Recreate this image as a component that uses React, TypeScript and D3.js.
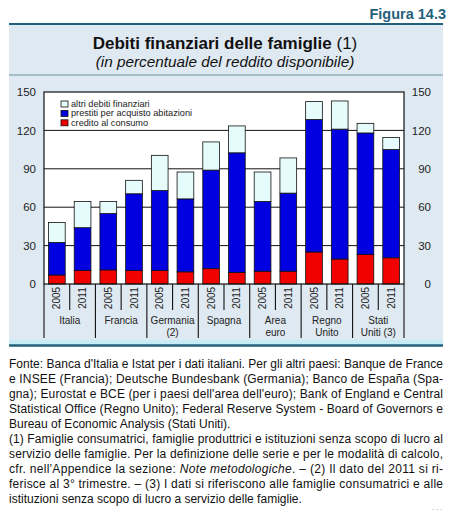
import React from "react";
import * as d3 from "d3";

// values (per cent of disposable income)
const countries = [
  ["Italia"],
  ["Francia"],
  ["Germania", "(2)"],
  ["Spagna"],
  ["Area", "euro"],
  ["Regno", "Unito"],
  ["Stati", "Uniti (3)"],
];
const years = ["2005", "2011"];

const credito = [7, 10.5, 11, 10.5, 10.5, 9.5, 12, 9, 10, 10, 25, 19.5, 23, 20.5];
const prestiti = [25.5, 33.5, 44, 60, 62.5, 57, 77, 93.5, 54.5, 61, 103.5, 101.5, 95, 84.5];
const altri = [15.5, 20.5, 9.5, 10.5, 27.5, 21, 22, 21, 23, 27.5, 14, 22, 7.5, 9.5];

const yTicks = [0, 30, 60, 90, 120, 150];

const seriesKeys = ["credito", "prestiti", "altri"];
const seriesColors: any = {
  credito: "#f20000",
  prestiti: "#0000e0",
  altri: "#e6fbfb",
};
const legendItems = [
  { key: "altri", label: "altri debiti finanziari" },
  { key: "prestiti", label: "prestiti per acquisto abitazioni" },
  { key: "credito", label: "credito al consumo" },
];

const footerLines = [
  "Fonte: Banca d'Italia e Istat per i dati italiani. Per gli altri paesi: Banque de France",
  "e INSEE (Francia); Deutsche Bundesbank (Germania); Banco de España (Spa-",
  "gna); Eurostat e BCE (per i paesi dell'area dell'euro); Bank of England e Central",
  "Statistical Office (Regno Unito); Federal Reserve System - Board of Governors e",
  "Bureau of Economic Analysis (Stati Uniti).",
  "(1) Famiglie consumatrici, famiglie produttrici e istituzioni senza scopo di lucro al",
  "servizio delle famiglie. Per la definizione delle serie e per le modalità di calcolo,",
  "cfr. nell'Appendice la sezione: |Note metodologiche|. – (2) Il dato del 2011 si ri-",
  "ferisce al 3° trimestre. – (3) I dati si riferiscono alle famiglie consumatrici e alle",
  "istituzioni senza scopo di lucro a servizio delle famiglie.",
];
// last line of each paragraph is not justified
const footerJustified = [true, true, true, true, false, true, true, true, true, false];

const FONT = "'Liberation Sans', Arial, Helvetica, sans-serif";
const TEAL = "#23607a";

export default function App() {
  const W = 457;
  const H = 513;
  const left = 44;
  const right = 404;
  const top = 92;
  const bottom = 284;

  const rows = credito.map((c, i) => ({
    i,
    credito: c,
    prestiti: prestiti[i],
    altri: altri[i],
  }));
  const stacked = d3.stack<any>().keys(seriesKeys)(rows);

  const x = d3
    .scaleBand<number>()
    .domain(rows.map((r) => r.i))
    .range([left, right])
    .paddingInner(0.35)
    .paddingOuter(0.175);
  const y = d3.scaleLinear().domain([0, 150]).range([bottom, top]);

  // boundaries between bars (for the axis separators)
  const bounds = d3.range(rows.length + 1).map((k) => left + (right - left) * (k / rows.length));

  return (
    <svg
      width={W}
      height={H}
      style={{ position: "absolute", left: 0, top: 0, fontFamily: FONT }}
    >
      <rect x={0} y={0} width={W} height={H} fill="#fff" />
      <text x={446} y={19} textAnchor="end" fontSize={14.5} fontWeight="bold" fill={TEAL}>
        Figura 14.3
      </text>
      {/* panel */}
      <rect x={9} y={24} width={434} height={321} fill="#dfe9f1" />
      <line x1={9} x2={443} y1={24} y2={24} stroke={TEAL} strokeWidth={2} />
      <line x1={9} x2={443} y1={75} y2={75} stroke="#4f7b8c" strokeWidth={0.8} />
      <rect x={9} y={340} width={434} height={4.5} fill="#c8ecf6" />
      <line x1={9} x2={443} y1={345.5} y2={345.5} stroke={TEAL} strokeWidth={2.5} />

      <text x={225} y={48.5} textAnchor="middle" fontSize={17} fill="#111">
        <tspan fontWeight="bold">Debiti finanziari delle famiglie</tspan>
        <tspan> (1)</tspan>
      </text>
      <text x={225} y={67} textAnchor="middle" fontSize={15.3} fontStyle="italic" fill="#111">
        (in percentuale del reddito disponibile)
      </text>

      {/* plot area */}
      <rect x={left} y={top} width={right - left} height={bottom - top} fill="#fff" />
      {yTicks
        .filter((t) => t > 0 && t < 150)
        .map((t) => (
          <line key={t} x1={left} x2={right} y1={y(t)} y2={y(t)} stroke="#111" strokeWidth={1} />
        ))}

      {stacked.map((s) => (
        <g key={s.key}>
          {s.map((d: any, i: number) => (
            <rect
              key={i}
              x={x(i)}
              width={x.bandwidth()}
              y={y(d[1])}
              height={y(d[0]) - y(d[1])}
              fill={seriesColors[s.key]}
              stroke="#111"
              strokeWidth={0.8}
            />
          ))}
        </g>
      ))}

      <rect
        x={left}
        y={top}
        width={right - left}
        height={bottom - top}
        fill="none"
        stroke="#111"
        strokeWidth={1.2}
      />

      {/* y tick labels */}
      {yTicks.map((t) => (
        <g key={t} fontSize={11.5} fill="#222">
          <text x={36} y={y(t)} dy="0.36em" textAnchor="end">
            {t}
          </text>
          <text x={431} y={y(t)} dy="0.36em" textAnchor="end">
            {t}
          </text>
        </g>
      ))}

      {/* legend */}
      {legendItems.map((l, k) => (
        <g key={l.key} transform={`translate(61, ${101 + k * 9.4})`}>
          <rect width={7} height={6} fill={seriesColors[l.key]} stroke="#111" strokeWidth={0.8} />
          <text x={10} y={6} fontSize={9.2} fill="#222">
            {l.label}
          </text>
        </g>
      ))}

      {/* x axis separators */}
      {bounds.map((bx, k) => (
        <line
          key={k}
          x1={bx}
          x2={bx}
          y1={bottom}
          y2={k % 2 === 0 ? 338 : 310}
          stroke="#111"
          strokeWidth={1.1}
        />
      ))}
      {rows.map((r) => {
        const cx = (x(r.i) as number) + x.bandwidth() / 2;
        return (
          <text
            key={r.i}
            transform={`translate(${cx}, 298) rotate(-90)`}
            textAnchor="middle"
            dy="0.36em"
            fontSize={10}
            fill="#222"
          >
            {years[r.i % 2]}
          </text>
        );
      })}
      {countries.map((lines, g) => {
        const gx = bounds[2 * g + 1];
        return (
          <text key={g} x={gx} y={324} textAnchor="middle" fontSize={10} fill="#222">
            {lines.map((ln, k) => (
              <tspan key={k} x={gx} dy={k === 0 ? 0 : 11.5}>
                {ln}
              </tspan>
            ))}
          </text>
        );
      })}

      {/* notes */}
      {footerLines.map((ln, k) => {
        const parts = ln.split("|");
        const just = footerJustified[k];
        return (
          <text
            key={k}
            x={9}
            y={368 + k * 15}
            fontSize={12}
            fill="#111"
            textLength={just ? 434 : undefined}
            lengthAdjust={just ? "spacing" : undefined}
          >
            {parts.map((p, j) => (
              <tspan key={j} fontStyle={j % 2 === 1 ? "italic" : "normal"}>
                {p}
              </tspan>
            ))}
          </text>
        );
      })}
      <text x={444} y={510} textAnchor="end" fontSize={9} fill="#aab" letterSpacing={1.5}>
        ...
      </text>
    </svg>
  );
}
